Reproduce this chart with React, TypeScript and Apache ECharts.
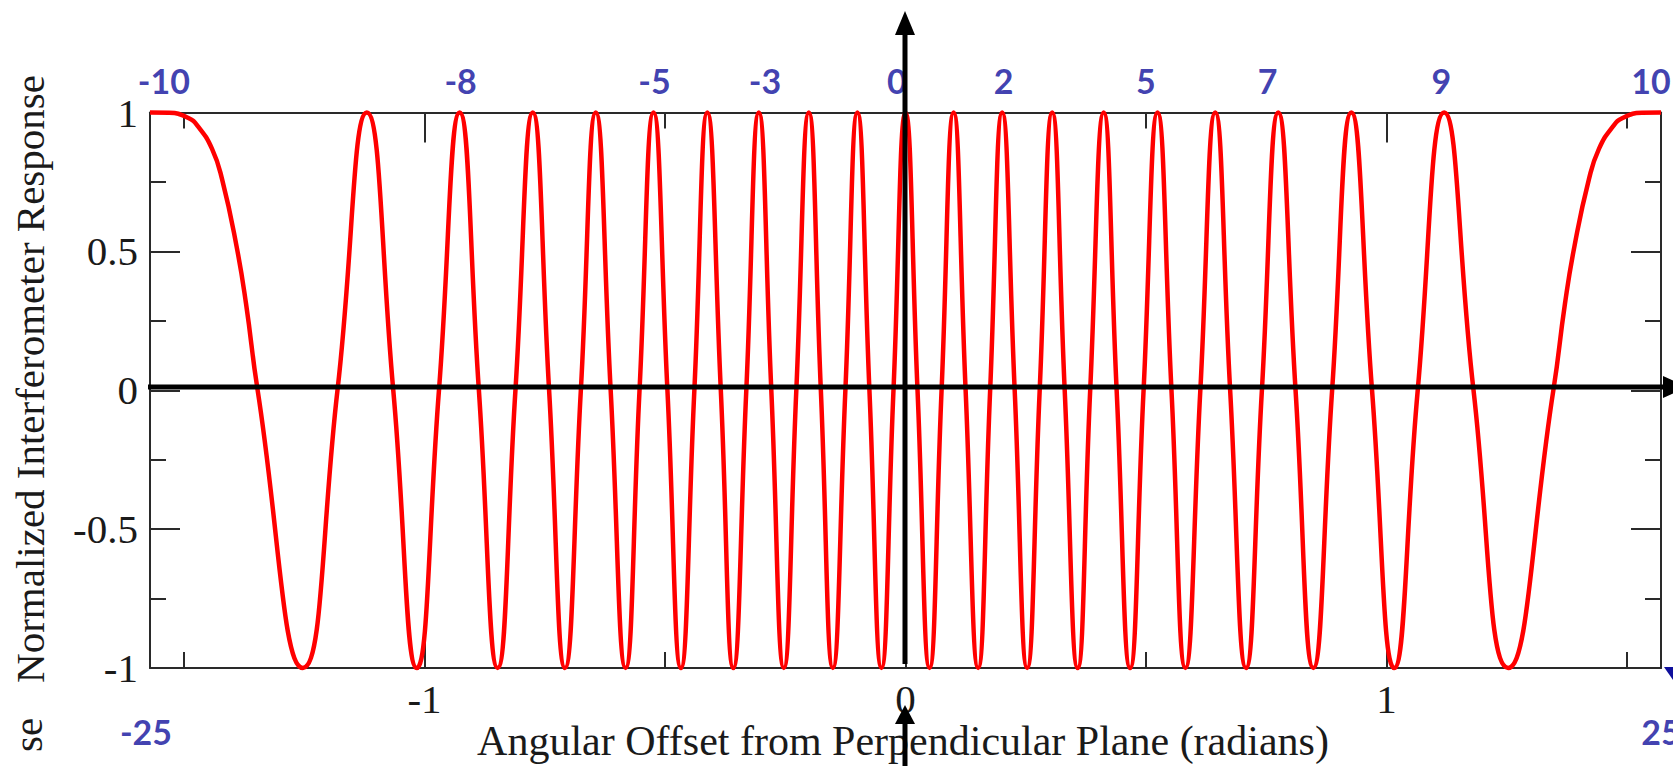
import React, { useEffect, useRef } from 'react';
import * as echarts from 'echarts';

const HALF_PI = Math.PI / 2;
const SERIF = '"Liberation Serif", "Times New Roman", serif';
const SANS = 'Lato, "Open Sans", sans-serif';
const BLUE = '#0f0f9c';

// axis ticks (radians)
const xMajorTicks = [-1, 0, 1];
const xMinorTicks = [-1.5, -0.5, 0.5, 1.5];

// curve points: peaks (1), troughs (-1), zero crossings and edge shoulders
const curveX = [
  -1.5708, -1.531, -1.491, -1.471, -1.442, -1.421, -1.391, -1.371, -1.347,
  -1.253, -1.181, -1.12, -1.065, -1.016, -0.97, -0.927, -0.887, -0.848, -0.811,
  -0.775, -0.741, -0.708, -0.675, -0.644, -0.613, -0.582, -0.553, -0.524, -0.495,
  -0.467, -0.439, -0.412, -0.384, -0.358, -0.331, -0.305, -0.279, -0.253, -0.227,
  -0.201, -0.176, -0.151, -0.125, -0.1, -0.075, -0.05, -0.025, 0,
  0.025, 0.05, 0.075, 0.1, 0.125, 0.151, 0.176, 0.201, 0.227, 0.253,
  0.279, 0.305, 0.331, 0.358, 0.384, 0.412, 0.439, 0.467, 0.495, 0.524,
  0.553, 0.582, 0.613, 0.644, 0.675, 0.708, 0.741, 0.775, 0.811, 0.848,
  0.887, 0.927, 0.97, 1.016, 1.065, 1.12, 1.181, 1.253,
  1.347, 1.371, 1.391, 1.421, 1.442, 1.471, 1.491, 1.531, 1.5708,
];
const curveY = [
  1, 0.999, 0.98, 0.95, 0.87, 0.76, 0.52, 0.31, 0,
  -1, 0, 1, 0, -1, 0, 1, 0, -1, 0,
  1, 0, -1, 0, 1, 0, -1, 0, 1, 0,
  -1, 0, 1, 0, -1, 0, 1, 0, -1, 0,
  1, 0, -1, 0, 1, 0, -1, 0, 1,
  0, -1, 0, 1, 0, -1, 0, 1, 0, -1,
  0, 1, 0, -1, 0, 1, 0, -1, 0, 1,
  0, -1, 0, 1, 0, -1, 0, 1, 0, -1,
  0, 1, 0, -1, 0, 1, 0, -1,
  0, 0.31, 0.52, 0.76, 0.87, 0.95, 0.98, 0.999, 1,
];

// blue fringe-order labels above the plot
const fringeLabels = ['-10', '-8', '-5', '-3', '0', '2', '5', '7', '9', '10'];
const fringeLabelX = [-1.542, -0.925, -0.522, -0.292, -0.018, 0.204, 0.5, 0.753, 1.114, 1.55];
// blue labels below the plot corners
const edgeLabels = ['-25', '25'];
const edgeLabelX = [-1.5708, 1.5708];

export default function App() {
  const ref = useRef<HTMLDivElement>(null);

  useEffect(() => {
    const chart = echarts.init(ref.current!, null, { renderer: 'svg' });

    const axisLineStyle = { color: '#2a2a2a', width: 2 };
    const baseX = {
      type: 'value',
      min: -HALF_PI,
      max: HALF_PI,
      splitLine: { show: false },
      minorSplitLine: { show: false },
    };
    const baseY = {
      type: 'value',
      min: -1,
      max: 1,
      interval: 0.5,
      splitLine: { show: false },
      minorSplitLine: { show: false },
    };

    const option: any = {
      animation: false,
      backgroundColor: '#ffffff',
      grid: {
        left: 150,
        right: 12,
        top: 112.5,
        bottom: 98,
        containLabel: false,
        outerBoundsMode: 'none',
      },
      xAxis: [
        {
          ...baseX,
          position: 'bottom',
          axisLine: { show: true, onZero: false, lineStyle: axisLineStyle },
          axisTick: { show: true, inside: true, length: 30, customValues: xMajorTicks, lineStyle: axisLineStyle },
          axisLabel: {
            show: true,
            customValues: xMajorTicks,
            margin: 10,
            color: '#1a1a1a',
            fontFamily: SERIF,
            fontSize: 41,
          },
        },
        {
          ...baseX,
          position: 'bottom',
          axisLine: { show: false, onZero: false },
          axisTick: { show: true, inside: true, length: 16, customValues: xMinorTicks, lineStyle: axisLineStyle },
          axisLabel: { show: false },
        },
        {
          ...baseX,
          position: 'top',
          axisLine: { show: true, onZero: false, lineStyle: axisLineStyle },
          axisTick: { show: true, inside: true, length: 30, customValues: xMajorTicks, lineStyle: axisLineStyle },
          axisLabel: { show: false },
        },
        {
          ...baseX,
          position: 'top',
          axisLine: { show: false, onZero: false },
          axisTick: { show: true, inside: true, length: 16, customValues: xMinorTicks, lineStyle: axisLineStyle },
          axisLabel: { show: false },
        },
      ],
      yAxis: [
        {
          ...baseY,
          position: 'left',
          axisLine: { show: true, onZero: false, lineStyle: axisLineStyle },
          axisTick: { show: true, inside: true, length: 30, lineStyle: axisLineStyle },
          minorTick: { show: true, splitNumber: 2, length: 16, lineStyle: axisLineStyle },
          axisLabel: {
            show: true,
            margin: 12,
            color: '#1a1a1a',
            fontFamily: SERIF,
            fontSize: 41,
            padding: [10, 0, 0, 0],
          },
        },
        {
          ...baseY,
          position: 'right',
          axisLine: { show: true, onZero: false, lineStyle: axisLineStyle },
          axisTick: { show: true, inside: true, length: 30, lineStyle: axisLineStyle },
          minorTick: { show: true, splitNumber: 2, length: 16, lineStyle: axisLineStyle },
          axisLabel: { show: false },
        },
      ],
      series: [
        {
          type: 'line',
          xAxisIndex: 0,
          yAxisIndex: 0,
          data: curveX.map((x, i) => [x, curveY[i]]),
          smooth: 0.5,
          showSymbol: false,
          symbol: 'none',
          clip: false,
          lineStyle: { color: '#ff0000', width: 4.5 },
          z: 3,
        },
        {
          type: 'scatter',
          xAxisIndex: 0,
          yAxisIndex: 0,
          clip: false,
          symbolSize: 1,
          itemStyle: { color: 'rgba(0,0,0,0)' },
          silent: true,
          data: [
            ...fringeLabelX.map((x, i) => ({
              value: [x, 1],
              label: { formatter: fringeLabels[i], offset: [0, -32] },
            })),
            ...edgeLabelX.map((x, i) => ({
              value: [x, -1],
              label: { formatter: edgeLabels[i], offset: [i === 0 ? -4 : 0, 63] },
            })),
          ],
          label: {
            show: true,
            position: 'inside',
            color: BLUE,
            fontFamily: SANS,
            fontSize: 34,
            fontWeight: 'bold',
          },
          z: 5,
        },
      ],
      graphic: [
        // horizontal arrow along zero line
        { type: 'line', z: 100, shape: { x1: 148, y1: 387, x2: 1666, y2: 387 }, style: { stroke: '#000', lineWidth: 5 } },
        { type: 'polygon', z: 100, shape: { points: [[1688, 387], [1663, 376], [1663, 398]] }, style: { fill: '#000' } },
        // vertical arrow (top)
        { type: 'line', z: 100, shape: { x1: 905, y1: 664, x2: 905, y2: 30 }, style: { stroke: '#000', lineWidth: 5 } },
        { type: 'polygon', z: 100, shape: { points: [[905, 11], [895, 35], [915, 35]] }, style: { fill: '#000' } },
        // vertical arrow (bottom)
        { type: 'line', z: 100, shape: { x1: 905, y1: 766, x2: 905, y2: 720 }, style: { stroke: '#000', lineWidth: 5 } },
        { type: 'polygon', z: 100, shape: { points: [[905, 705], [895, 724], [915, 724]] }, style: { fill: '#000' } },
        // blue corner mark
        { type: 'polygon', z: 100, shape: { points: [[1664, 667], [1673, 667], [1673, 680]] }, style: { fill: BLUE } },
        // axis titles
        {
          type: 'text',
          z: 50,
          x: 903,
          y: 741,
          style: {
            text: 'Angular Offset from Perpendicular Plane (radians)',
            fontFamily: SERIF,
            fontSize: 42,
            fill: '#1a1a1a',
            align: 'center',
            verticalAlign: 'middle',
          },
        },
        {
          type: 'text',
          z: 50,
          x: 30,
          y: 379,
          rotation: Math.PI / 2,
          style: {
            text: 'Normalized Interferometer Response',
            fontFamily: SERIF,
            fontSize: 41,
            fill: '#1a1a1a',
            align: 'center',
            verticalAlign: 'middle',
          },
        },
        {
          type: 'text',
          z: 50,
          x: 28,
          y: 735,
          rotation: Math.PI / 2,
          style: {
            text: 'se',
            fontFamily: SERIF,
            fontSize: 41,
            fill: '#1a1a1a',
            align: 'center',
            verticalAlign: 'middle',
          },
        },
      ],
    };

    chart.setOption(option);
    return () => chart.dispose();
  }, []);

  return (
    <div
      ref={ref}
      style={{ position: 'fixed', left: 0, top: 0, width: 1673, height: 766, background: '#fff' }}
    />
  );
}
